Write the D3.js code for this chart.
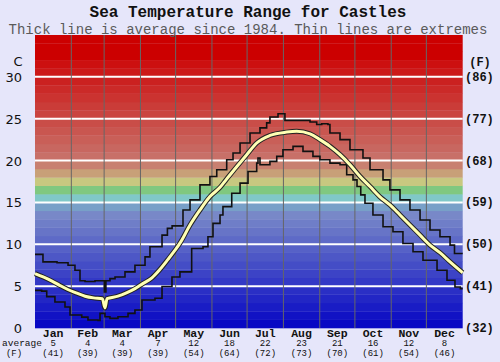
<!DOCTYPE html>
<html>
<head>
<meta charset="utf-8">
<script src="https://cdn.jsdelivr.net/npm/d3@7"></script>
<style>
body { margin: 0; background: #e6e6fa; }
svg { display: block; }
.mono { font-family: "Liberation Mono", "DejaVu Sans Mono", monospace; }
</style>
</head>
<body>
<script>
var months = ["Jan", "Feb", "Mar", "Apr", "May", "Jun", "Jul", "Aug", "Sep", "Oct", "Nov", "Dec"];
var monthDays = [31, 28, 31, 30, 31, 30, 31, 31, 30, 31, 30, 31];
var avgC = ["5", "4", "4", "7", "12", "18", "22", "23", "21", "16", "12", "8"];
var avgF = ["(41)", "(39)", "(39)", "(39)", "(54)", "(64)", "(72)", "(73)", "(70)", "(61)", "(54)", "(46)"];
var cTicks = [0, 5, 10, 15, 20, 25, 30];
var fTicks = ["(32)", "(41)", "(50)", "(59)", "(68)", "(77)", "(86)"];

// [day of year, deg C]
var avgLine = [[0, 6.5], [7, 6.1], [14.5, 5.6], [21, 5.1], [28, 4.6], [35, 4.2], [42.7, 3.8], [50, 3.6],
    [57.5, 3.5], [59.7, 2.4], [61.5, 3.5], [70.8, 3.8], [78, 4.2], [85.3, 4.7], [92, 5.3], [99.8, 6.0],
    [106, 6.9], [113.5, 8.2], [119, 9.2], [124, 10.2], [132.3, 12.3], [140.8, 14.1], [149.3, 15.7],
    [157.9, 16.8], [163, 17.7], [170, 18.9], [180.7, 20.7], [189.2, 22.1], [200.5, 23.0], [214.8, 23.4],
    [223.3, 23.5], [234.7, 23.2], [243.2, 22.5], [251.7, 21.7], [260.3, 20.7], [268.8, 19.5], [277.4, 18.1],
    [285.9, 16.9], [294.1, 15.7], [302.9, 14.7], [311.5, 13.5], [320, 12.3], [328.6, 11.1], [337.1, 9.9],
    [345.6, 9.0], [354.2, 7.9], [365, 6.6]];

var maxLine = [[0, 8.8], [6.8, 7.9], [18.8, 7.8], [28.2, 7.5], [34.1, 6.9], [38.4, 5.65], [42.7, 5.55],
    [51.2, 5.65], [59.2, 4.3], [60.5, 5.65], [64, 5.9], [68.3, 6.1], [76.8, 6.7], [85.3, 7.5], [93.9, 8.5],
    [98.1, 9.7], [108.4, 11.1], [113, 11.9], [117, 12.2], [126.3, 14.1], [132.3, 15.3], [140.8, 17.1],
    [149.3, 18.1], [155.1, 18.9], [163.6, 20.1], [169, 20.9], [175, 22.1], [183.5, 23.3], [192, 23.9],
    [197.7, 24.5], [200.5, 25.2], [207.4, 25.6], [213.3, 24.8], [234.7, 24.6], [240.4, 24.3], [244.7, 24.4],
    [250, 24.3], [251.7, 23.3], [260.3, 22.5], [268.8, 21.3], [279.9, 20.3], [285.9, 18.9], [297, 17.7],
    [302.9, 16.5], [311.5, 15.3], [320, 14.1], [328.6, 12.9], [337.1, 11.7], [345.6, 10.9], [354.2, 9.9],
    [358, 8.9], [365, 8.9]];

var minLine = [[0, 4.5], [5.7, 4.4], [10, 3.75], [17, 3.1], [25.6, 2.5], [29.9, 1.55], [39.9, 1.3],
    [45.2, 0.95], [53.8, 0.9], [55.5, 1.75], [59.7, 1.35], [64, 1.15], [70.8, 1.35], [79.4, 1.75],
    [85.3, 2.15], [91.3, 3.35], [102.4, 3.55], [108.4, 4.95], [116.9, 6.1], [123.7, 6.7], [133.7, 9.5],
    [143.4, 9.7], [147.6, 10.9], [151.9, 12.5], [157.9, 13.5], [160.4, 14.5], [167.9, 16.1], [175, 17.3],
    [181.8, 18.7], [189.2, 19.7], [190.3, 20.3], [192, 19.5], [200.5, 19.9], [206.3, 20.5], [211.6, 21.3],
    [220.2, 21.7], [228.7, 21.1], [237.2, 20.5], [243.2, 20.1], [251.7, 19.7], [260.3, 19.5], [266, 18.3],
    [271.4, 17.7], [274.8, 16.9], [278, 15.9], [281.6, 14.9], [288.4, 13.5], [297, 12.1], [305.5, 11.5],
    [314, 10.1], [322.6, 9.1], [331.1, 8.1], [343.1, 6.9], [351.6, 5.7], [358.4, 4.9], [363, 4.7], [365, 4.7]];

var w = 500, h = 362,
    plotL = 35, plotR = 462.7, plotT = 35, plotB = 328;

var x = d3.scaleLinear().domain([0, 365]).range([plotL, plotR]);
var y = d3.scaleLinear().domain([0, 35]).range([plotB, plotT]);

// colour of each 1 degree band
function bandColor(t) {
    if (t >= 32) return "#cc0000";
    if (t >= 20) return d3.interpolateRgb("#c87068", "#cc1010")((t - 20) / 11);
    var mid = {19: "#c88070", 18: "#c8a078", 17: "#c8c880", 16: "#80c880", 15: "#80c8c8", 14: "#78a0c8"};
    if (mid[t]) return mid[t];
    return d3.interpolateRgb("#0808c4", "#7888c8")(t / 13);
}

var svg = d3.select("body").append("svg")
    .attr("width", w)
    .attr("height", h);

svg.append("rect")
    .attr("width", w)
    .attr("height", h)
    .attr("fill", "#e6e6fa");

svg.append("g")
    .selectAll("rect")
    .data(d3.range(0, 35))
    .enter()
    .append("rect")
    .attr("x", plotL)
    .attr("width", plotR - plotL)
    .attr("y", function(d) { return y(d + 1); })
    .attr("height", function(d) { return y(d) - y(d + 1) + 0.3; })
    .attr("fill", bandColor);

svg.append("g")
    .selectAll("line")
    .data(cTicks.slice(1))
    .enter()
    .append("line")
    .attr("x1", plotL)
    .attr("x2", plotR)
    .attr("y1", function(d) { return y(d); })
    .attr("y2", function(d) { return y(d); })
    .attr("stroke", "#fff")
    .attr("stroke-width", 2);

var starts = [0];
monthDays.forEach(function(d, i) { starts.push(starts[i] + d); });

svg.append("g")
    .selectAll("line")
    .data(starts.slice(1, 12))
    .enter()
    .append("line")
    .attr("x1", function(d) { return x(d); })
    .attr("x2", function(d) { return x(d); })
    .attr("y1", plotT)
    .attr("y2", plotB)
    .attr("stroke", "#666")
    .attr("stroke-width", 1);

var step = d3.line()
    .x(function(d) { return x(d[0]); })
    .y(function(d) { return y(d[1]); })
    .curve(d3.curveStepAfter);

[maxLine, minLine].forEach(function(data) {
    svg.append("path")
        .datum(data)
        .attr("d", step)
        .attr("fill", "none")
        .attr("stroke", "#111")
        .attr("stroke-width", 1.6);
});

var smooth = d3.line()
    .x(function(d) { return x(d[0]); })
    .y(function(d) { return y(d[1]); })
    .curve(d3.curveMonotoneX);

svg.append("path")
    .datum(avgLine)
    .attr("d", smooth)
    .attr("fill", "none")
    .attr("stroke", "#222")
    .attr("stroke-width", 5);
svg.append("path")
    .datum(avgLine)
    .attr("d", smooth)
    .attr("fill", "none")
    .attr("stroke", "#ffffb4")
    .attr("stroke-width", 3);

// titles
svg.append("text")
    .attr("class", "mono")
    .attr("x", 248)
    .attr("y", 17)
    .attr("text-anchor", "middle")
    .attr("font-size", 16)
    .attr("font-weight", "bold")
    .attr("fill", "#111")
    .text("Sea Temperature Range for Castles");
svg.append("text")
    .attr("class", "mono")
    .attr("x", 248)
    .attr("y", 33.5)
    .attr("text-anchor", "middle")
    .attr("font-size", 14)
    .attr("fill", "#5a5a5a")
    .text("Thick line is average since 1984. Thin lines are extremes");

// left axis (C)
svg.append("text")
    .attr("x", 18)
    .attr("y", 66)
    .attr("text-anchor", "middle")
    .attr("font-family", "DejaVu Sans")
    .attr("font-size", 13)
    .attr("fill", "#111")
    .text("C");
svg.append("g")
    .selectAll("text")
    .data(cTicks)
    .enter()
    .append("text")
    .attr("x", 22)
    .attr("y", function(d) { return y(d) + 5; })
    .attr("text-anchor", "end")
    .attr("font-family", "DejaVu Sans")
    .attr("font-size", 13)
    .attr("fill", "#111")
    .text(function(d) { return d; });

// right axis (F)
svg.append("text")
    .attr("class", "mono")
    .attr("x", 480)
    .attr("y", 66)
    .attr("text-anchor", "middle")
    .attr("font-size", 12)
    .attr("font-weight", "bold")
    .attr("fill", "#111")
    .text("(F)");
svg.append("g")
    .selectAll("text")
    .data(fTicks)
    .enter()
    .append("text")
    .attr("class", "mono")
    .attr("x", 465)
    .attr("y", function(d, i) { return y(cTicks[i]) + 4; })
    .attr("font-size", 12)
    .attr("font-weight", "bold")
    .attr("fill", "#111")
    .text(function(d) { return d; });

// month labels
var mid = function(i) { return x(starts[i] + monthDays[i] / 2); };
var labels = svg.append("g").attr("class", "mono").attr("text-anchor", "middle").attr("fill", "#111");
labels.selectAll(".mname")
    .data(months)
    .enter()
    .append("text")
    .attr("x", function(d, i) { return mid(i); })
    .attr("y", 337)
    .attr("font-size", 11.5)
    .attr("font-weight", "bold")
    .text(function(d) { return d; });
labels.selectAll(".mc")
    .data(avgC)
    .enter()
    .append("text")
    .attr("x", function(d, i) { return mid(i); })
    .attr("y", 346)
    .attr("font-size", 9)
    .text(function(d) { return d; });
labels.selectAll(".mf")
    .data(avgF)
    .enter()
    .append("text")
    .attr("x", function(d, i) { return mid(i); })
    .attr("y", 355.5)
    .attr("font-size", 9)
    .text(function(d) { return d; });
labels.append("text")
    .attr("x", 22)
    .attr("y", 346)
    .attr("font-size", 9.5)
    .text("average");
labels.append("text")
    .attr("x", 14)
    .attr("y", 355.5)
    .attr("font-size", 9)
    .text("(F)");
</script>
</body>
</html>
